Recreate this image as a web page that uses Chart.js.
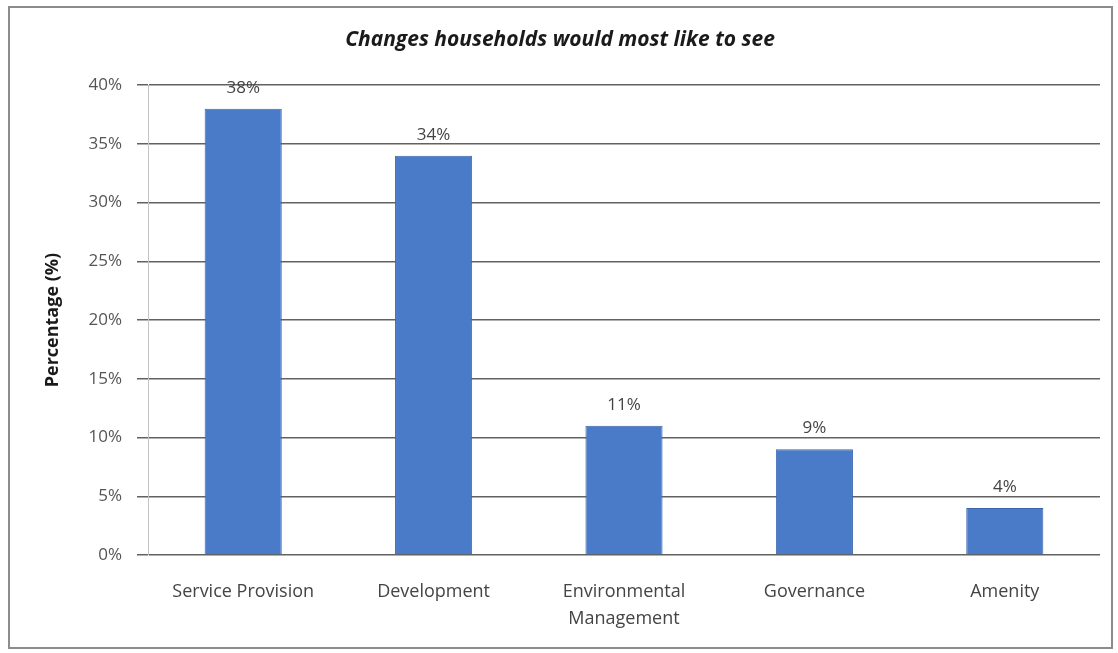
<!DOCTYPE html>
<html>
<head>
<meta charset="utf-8">
<title>Changes households would most like to see</title>
<script src="https://cdn.jsdelivr.net/npm/chart.js@4.4.1/dist/chart.umd.min.js"></script>
<style>
  html, body { margin: 0; padding: 0; background: #fff; }
  #wrap { position: relative; width: 1118px; height: 653px; }
</style>
</head>
<body>
<div id="wrap"><canvas id="changes-chart"></canvas></div>
<script>
const categories = ['Service Provision', 'Development', ['Environmental', 'Management'], 'Governance', 'Amenity'];
const shares = [38, 34, 11, 9, 4];
const yTicks = [0, 5, 10, 15, 20, 25, 30, 35, 40];

const FONT = "'Open Sans', sans-serif";

// Outer frame round the whole chart.
const framePlugin = {
    id: 'frame',
    beforeDraw(chart) {
        const ctx = chart.ctx;
        ctx.save();
        ctx.strokeStyle = '#8c8c8c';
        ctx.lineWidth = 2;
        ctx.strokeRect(9, 7, 1103, 641);
        ctx.restore();
    }
};

// Percent labels above each bar.
const valueLabels = {
    id: 'valueLabels',
    afterDatasetsDraw(chart) {
        const ctx = chart.ctx;
        const meta = chart.getDatasetMeta(0);
        ctx.save();
        ctx.font = '17px ' + FONT;
        ctx.fillStyle = '#444';
        ctx.textAlign = 'center';
        ctx.textBaseline = 'middle';
        meta.data.forEach((bar, i) => {
            ctx.fillText(shares[i] + '%', bar.x, bar.y - 21);
        });
        ctx.restore();
    }
};

new Chart(document.getElementById('changes-chart'), {
    type: 'bar',
    data: {
        labels: categories,
        datasets: [{
            data: shares,
            backgroundColor: '#4a7bc8',
            borderColor: '#3b66ad',
            borderWidth: 1,
            categoryPercentage: 1,
            barPercentage: 0.405
        }]
    },
    options: {
        responsive: true,
        maintainAspectRatio: false,
        animation: false,
        layout: { padding: { left: 20, right: 18, top: 0, bottom: 10 } },
        plugins: {
            legend: { display: false },
            tooltip: { enabled: false },
            title: {
                display: true,
                text: 'Changes households would most like to see',
                color: '#1a1a1a',
                font: { family: FONT, size: 21, style: 'italic', weight: 'bold' },
                padding: { top: 27, bottom: 33 }
            }
        },
        scales: {
            y: {
                min: 0,
                max: 40,
                afterFit(scale) { scale.width = 128; },
                afterBuildTicks(scale) { scale.ticks = yTicks.map(v => ({ value: v })); },
                border: { display: true, color: '#c4c4c4', width: 1 },
                grid: {
                    color: '#626262',
                    lineWidth: 1.5,
                    tickLength: 11,
                    drawOnChartArea: true
                },
                ticks: {
                    padding: 15,
                    color: '#555',
                    font: { family: FONT, size: 17 },
                    callback: v => v + '%'
                },
                title: {
                    display: true,
                    text: 'Percentage (%)',
                    color: '#1a1a1a',
                    font: { family: FONT, size: 18, weight: 'bold' },
                    padding: { top: 22, bottom: 0 }
                }
            },
            x: {
                afterFit(scale) { scale.height = 88; },
                border: { display: false },
                grid: { display: false, drawTicks: false },
                ticks: {
                    padding: 23,
                    color: '#444',
                    maxRotation: 0,
                    autoSkip: false,
                    font: { family: FONT, size: 18, lineHeight: 1.5 }
                }
            }
        }
    },
    plugins: [framePlugin, valueLabels]
});
</script>
</body>
</html>
